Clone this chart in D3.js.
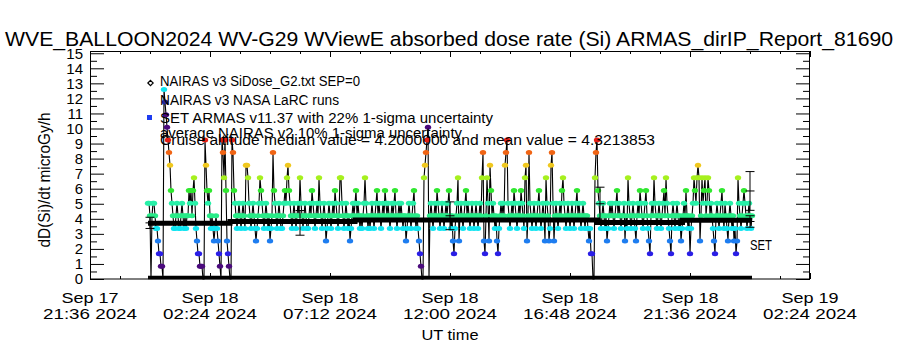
<!DOCTYPE html>
<html>
<head>
<meta charset="utf-8">
<script src="https://cdn.jsdelivr.net/npm/d3@7"></script>
<style>
  body { margin: 0; background: #fff; }
  text { font-family: "Liberation Sans", Arial, sans-serif; fill: #000; }
</style>
</head>
<body>
<div id="chart"></div>
<script>
// ---------- data ----------
const titleText = "WVE_BALLOON2024 WV-G29 WViewE absorbed dose rate (Si) ARMAS_dirIP_Report_81690";
const yLabelText = "dD(Si)/dt microGy/h";
const xLabelText = "UT time";

// y axis: labelled every 1, minor tick every 0.5
const yMajorTicks = [0,1,2,3,4,5,6,7,8,9,10,11,12,13,14,15];
const yMinorTicks = [0.5,1.5,2.5,3.5,4.5,5.5,6.5,7.5,8.5,9.5,10.5,11.5,12.5,13.5,14.5];

// x axis: major ticks (hours relative to Sep 18 00:00 UT) and their labels
const xMajorHours = [-2.4, 2.4, 7.2, 12.0, 16.8, 21.6, 26.4];
const xTickDay    = ["Sep 17", "Sep 18", "Sep 18", "Sep 18", "Sep 18", "Sep 18", "Sep 19"];
const xTickClock  = ["21:36 2024", "02:24 2024", "07:12 2024", "12:00 2024", "16:48 2024", "21:36 2024", "02:24 2024"];
const xMinorHours = [-1.2, 0, 1.2, 3.6, 4.8, 6.0, 8.4, 9.6, 10.8, 13.2, 14.4, 15.6,
                     18.0, 19.2, 20.4, 22.8, 24.0, 25.2];

// ARMAS measurements: dose quantised in steps of ~0.84 uGy/h (level index),
// one sample every 0.04 h starting at -0.08 h (Sep 17 23:55 UT); one row per hour
const armasStartHour = -0.08;
const armasStepHour = 0.04;
const armasDoseStep = 0.84;
const armasLevels = [
  6,6,5,0,5,6,6,5,4,4,3,2,2,1,1,0,15,14,13,12,11,10,9,7,6,
  5,4,4,5,6,5,4,4,5,6,5,4,5,4,5,5,7,6,7,5,7,8,6,4,3,
  2,2,1,1,1,0,0,11,9,7,6,7,5,4,5,4,3,4,5,4,3,2,1,0,11,
  10,8,11,7,3,2,1,0,0,11,10,7,6,5,4,5,6,5,4,5,6,5,4,9,9,
  8,6,5,4,5,6,5,4,3,4,5,6,8,7,6,5,4,5,6,5,4,5,3,4,5,
  10,7,6,5,4,5,6,5,4,4,5,6,7,6,8,9,7,6,5,4,5,6,5,4,5,
  6,5,8,6,5,4,5,6,5,4,4,5,6,5,7,6,5,4,5,6,5,8,6,5,4,
  5,6,5,3,4,5,6,5,4,5,6,5,7,6,5,4,5,8,8,6,5,4,5,6,5,
  4,5,3,4,5,6,5,6,7,5,6,5,4,5,4,5,6,8,6,5,4,5,4,5,6,
  5,4,5,6,7,5,6,5,4,5,6,5,7,6,5,6,5,4,5,6,5,6,7,5,4,
  5,6,5,6,5,4,5,5,3,4,5,6,5,4,5,6,7,5,4,5,4,3,2,1,0,
  0,8,9,10,11,12,0,5,6,5,4,5,6,5,7,6,5,4,5,6,5,4,5,6,5,
  6,7,5,4,5,3,2,4,5,6,8,3,5,6,5,4,5,6,7,5,6,5,4,5,6,
  5,4,5,6,5,4,5,6,5,8,10,3,2,5,8,6,3,9,7,5,6,5,4,5,3,
  2,4,5,6,5,6,5,9,10,11,6,5,4,5,6,5,7,6,5,4,5,6,5,7,6,
  5,4,8,9,3,5,10,6,5,4,5,6,5,4,5,6,7,5,4,5,6,5,3,8,6,
  5,3,4,9,10,6,3,5,6,5,4,5,6,5,7,8,6,5,4,5,6,5,4,5,6,
  5,4,5,6,7,5,6,5,4,5,6,5,4,5,5,4,3,4,2,2,0,0,8,10,11,
  7,6,5,4,5,6,5,4,5,3,4,5,6,5,6,5,4,5,6,7,5,6,5,4,5,
  5,6,3,5,4,8,6,5,4,5,6,5,4,3,5,6,5,7,6,5,4,5,6,7,5,
  4,3,2,5,6,5,8,6,5,4,5,6,5,4,5,6,7,5,8,6,5,4,3,2,5,
  6,5,4,5,6,5,4,5,3,4,5,6,5,7,5,4,5,2,4,5,6,8,7,6,8,
  9,8,3,5,8,6,7,8,5,6,8,7,5,6,5,4,3,2,5,6,5,4,5,6,7,
  5,4,6,5,4,3,5,6,5,4,5,3,4,2,3,8,6,5,4,5,6,7,6,5,4,
  5,6,5,4,5
];

// NAIRAS v3 NASA LaRC runs (step values)
const larcHours = [-0.08, 3.2, 8.2, 17.9, 21.3, 24.08];
const larcDose  = [3.70, 3.82, 3.92, 3.75, 3.90, 3.90];

// NAIRAS v3 SiDose_G2 (SEP=0) sits on zero
const sidoseHours = [-0.08, 24.08];
const sidoseDose  = [0, 0];

// SET ARMAS averages (22% 1-sigma) and average NAIRAS v2 (10% 1-sigma)
const setHours = [6.0, 12.0, 18.0, 24.0];
const setMean  = [3.73, 4.20, 5.00, 5.85];
const v2Hours  = [0.0, 24.0];
const v2Mean   = [3.73, 3.82];

const legendLines = [
  "NAIRAS v3 SiDose_G2.txt SEP=0",
  "NAIRAS v3 NASA LaRC runs",
  "SET ARMAS v11.37 with 22% 1-sigma uncertainty",
  "average NAIRAS v2 10% 1-sigma uncertainty",
  "Cruise altitude median value = 4.2000000 and mean value = 4.3213853"
];

// colour for each dose level (colour table wraps above ~10 uGy/h)
const levelColors = ["#000000", "#4b0a7d", "#2a1ee6", "#1e7df0", "#10e4f0", "#28ec88",
                     "#28f0a8", "#30e830", "#a6f01e", "#f0c81e", "#f06414", "#e61e14",
                     "#4b0a7d", "#4b0a7d", "#28289a", "#10e4f0"];

// ---------- chart ----------
const sep18 = Date.UTC(2024, 8, 18);
const hourToDate = h => new Date(sep18 + h * 3600000);

const svg = d3.select("#chart").append("svg")
  .attr("width", 900).attr("height", 350)
  .style("background-color", "#fff");

const x = d3.scaleUtc().domain([hourToDate(-2.4), hourToDate(26.4)]).range([90, 810]);
const y = d3.scaleLinear().domain([0, 15.15]).range([279, 51]);

// title
svg.append("text").attr("x", 449).attr("y", 46).attr("text-anchor", "middle")
  .attr("font-size", 21).attr("textLength", 888).attr("lengthAdjust", "spacingAndGlyphs")
  .text(titleText);

// y axes (left with labels, right mirrored)
const yLeft = svg.append("g").attr("transform", "translate(90,0)")
  .call(d3.axisLeft(y).tickValues(yMajorTicks).tickSize(-14).tickPadding(7).tickFormat(d3.format("d")));
yLeft.selectAll("text").attr("font-size", 15).style("font-family", "Liberation Sans, Arial, sans-serif");
svg.append("g").attr("transform", "translate(90,0)")
  .call(d3.axisLeft(y).tickValues(yMinorTicks).tickSize(-7).tickFormat(""));
svg.append("g").attr("transform", "translate(810,0)")
  .call(d3.axisRight(y).tickValues(yMajorTicks).tickSize(-14).tickFormat(""));
svg.append("g").attr("transform", "translate(810,0)")
  .call(d3.axisRight(y).tickValues(yMinorTicks).tickSize(-7).tickFormat(""));

// x axes
const xMajor = xMajorHours.map(hourToDate), xMinor = xMinorHours.map(hourToDate);
svg.append("g").attr("transform", "translate(0,279)")
  .call(d3.axisBottom(x).tickValues(xMajor).tickSize(-6).tickFormat(""));
svg.append("g").attr("transform", "translate(0,279)")
  .call(d3.axisBottom(x).tickValues(xMinor).tickSize(-3).tickFormat(""));
svg.append("g").attr("transform", "translate(0,51)")
  .call(d3.axisTop(x).tickValues(xMajor).tickSize(-6).tickFormat(""));
svg.append("g").attr("transform", "translate(0,51)")
  .call(d3.axisTop(x).tickValues(xMinor).tickSize(-3).tickFormat(""));
svg.selectAll(".domain").remove();
svg.selectAll(".tick line").attr("stroke", "#000");

// frame
svg.append("rect").attr("x", 90.5).attr("y", 51.5).attr("width", 719).attr("height", 227.5)
  .attr("fill", "none").attr("stroke", "#000").attr("stroke-width", 1);

// x tick labels (two lines)
xMajor.forEach((t, i) => {
  svg.append("text").attr("x", x(t)).attr("y", 303).attr("text-anchor", "middle")
    .attr("font-size", 15).attr("textLength", 57).attr("lengthAdjust", "spacingAndGlyphs")
    .text(xTickDay[i]);
  svg.append("text").attr("x", x(t)).attr("y", 319).attr("text-anchor", "middle")
    .attr("font-size", 15).attr("textLength", 94).attr("lengthAdjust", "spacingAndGlyphs")
    .text(xTickClock[i]);
});
svg.append("text").attr("x", 450).attr("y", 340).attr("text-anchor", "middle")
  .attr("font-size", 15).attr("textLength", 57).attr("lengthAdjust", "spacingAndGlyphs")
  .text(xLabelText);

// y label
svg.append("text").attr("transform", "translate(50,180) rotate(-90)")
  .attr("text-anchor", "middle").attr("font-size", 17)
  .attr("textLength", 135).attr("lengthAdjust", "spacingAndGlyphs")
  .text(yLabelText);

// ARMAS series
const armas = armasLevels.map((k, i) => ({
  t: hourToDate(armasStartHour + i * armasStepHour),
  v: k * armasDoseStep,
  k: k
}));
const plot = svg.append("g");
plot.append("path").datum(armas)
  .attr("d", d3.line().x(d => x(d.t)).y(d => y(d.v)))
  .attr("fill", "none").attr("stroke", "#000").attr("stroke-width", 1.1);
plot.selectAll("ellipse.armas").data(armas.filter(d => d.k > 0)).join("ellipse")
  .attr("class", "armas")
  .attr("cx", d => x(d.t)).attr("cy", d => y(d.v))
  .attr("rx", 3.2).attr("ry", 2.5)
  .attr("fill", d => levelColors[d.k]);

// NAIRAS SiDose on zero
plot.append("path").datum(sidoseHours.map((h, i) => [hourToDate(h), sidoseDose[i]]))
  .attr("d", d3.line().x(d => x(d[0])).y(d => y(d[1]) - 1.5))
  .attr("fill", "none").attr("stroke", "#000").attr("stroke-width", 3.5);

// NAIRAS LaRC band
plot.append("path").datum(larcHours.map((h, i) => [hourToDate(h), larcDose[i]]))
  .attr("d", d3.line().curve(d3.curveStepAfter).x(d => x(d[0])).y(d => y(d[1])))
  .attr("fill", "none").attr("stroke", "#000").attr("stroke-width", 5);

// error bars
function errorBar(h, mean, frac) {
  const cx = x(hourToDate(h));
  const lo = y(mean * (1 - frac)), hi = y(mean * (1 + frac)), mid = y(mean);
  const g = plot.append("g").attr("stroke", "#000").attr("stroke-width", 1);
  g.append("line").attr("x1", cx).attr("x2", cx).attr("y1", lo).attr("y2", hi);
  [lo, hi, mid].forEach(yy => g.append("line")
    .attr("x1", cx - 4.5).attr("x2", cx + 4.5).attr("y1", yy).attr("y2", yy));
}
setHours.forEach((h, i) => errorBar(h, setMean[i], 0.22));
v2Hours.forEach((h, i) => errorBar(h, v2Mean[i], 0.10));

svg.append("text").attr("x", 750).attr("y", 250).attr("font-size", 14)
  .attr("textLength", 22).attr("lengthAdjust", "spacingAndGlyphs").text("SET");

// legend
const legendY = [86, 104.5, 123, 137.5, 145];
const legendLen = [200, 179, 333, 302, 495];
legendLines.forEach((s, i) => {
  svg.append("text").attr("x", 160).attr("y", legendY[i]).attr("font-size", 14)
    .attr("textLength", legendLen[i]).attr("lengthAdjust", "spacingAndGlyphs").text(s);
});
svg.append("path").attr("d", d3.symbol(d3.symbolDiamond2, 18)())
  .attr("transform", "translate(150.5,83)").attr("fill", "none").attr("stroke", "#000").attr("stroke-width", 1.2);
svg.append("path").attr("d", d3.symbol(d3.symbolPlus, 26)())
  .attr("transform", "translate(152,101.5)").attr("fill", "#000");
svg.append("rect").attr("x", 147).attr("y", 115).attr("width", 5).attr("height", 5).attr("fill", "#1e3cf0");
</script>
</body>
</html>
